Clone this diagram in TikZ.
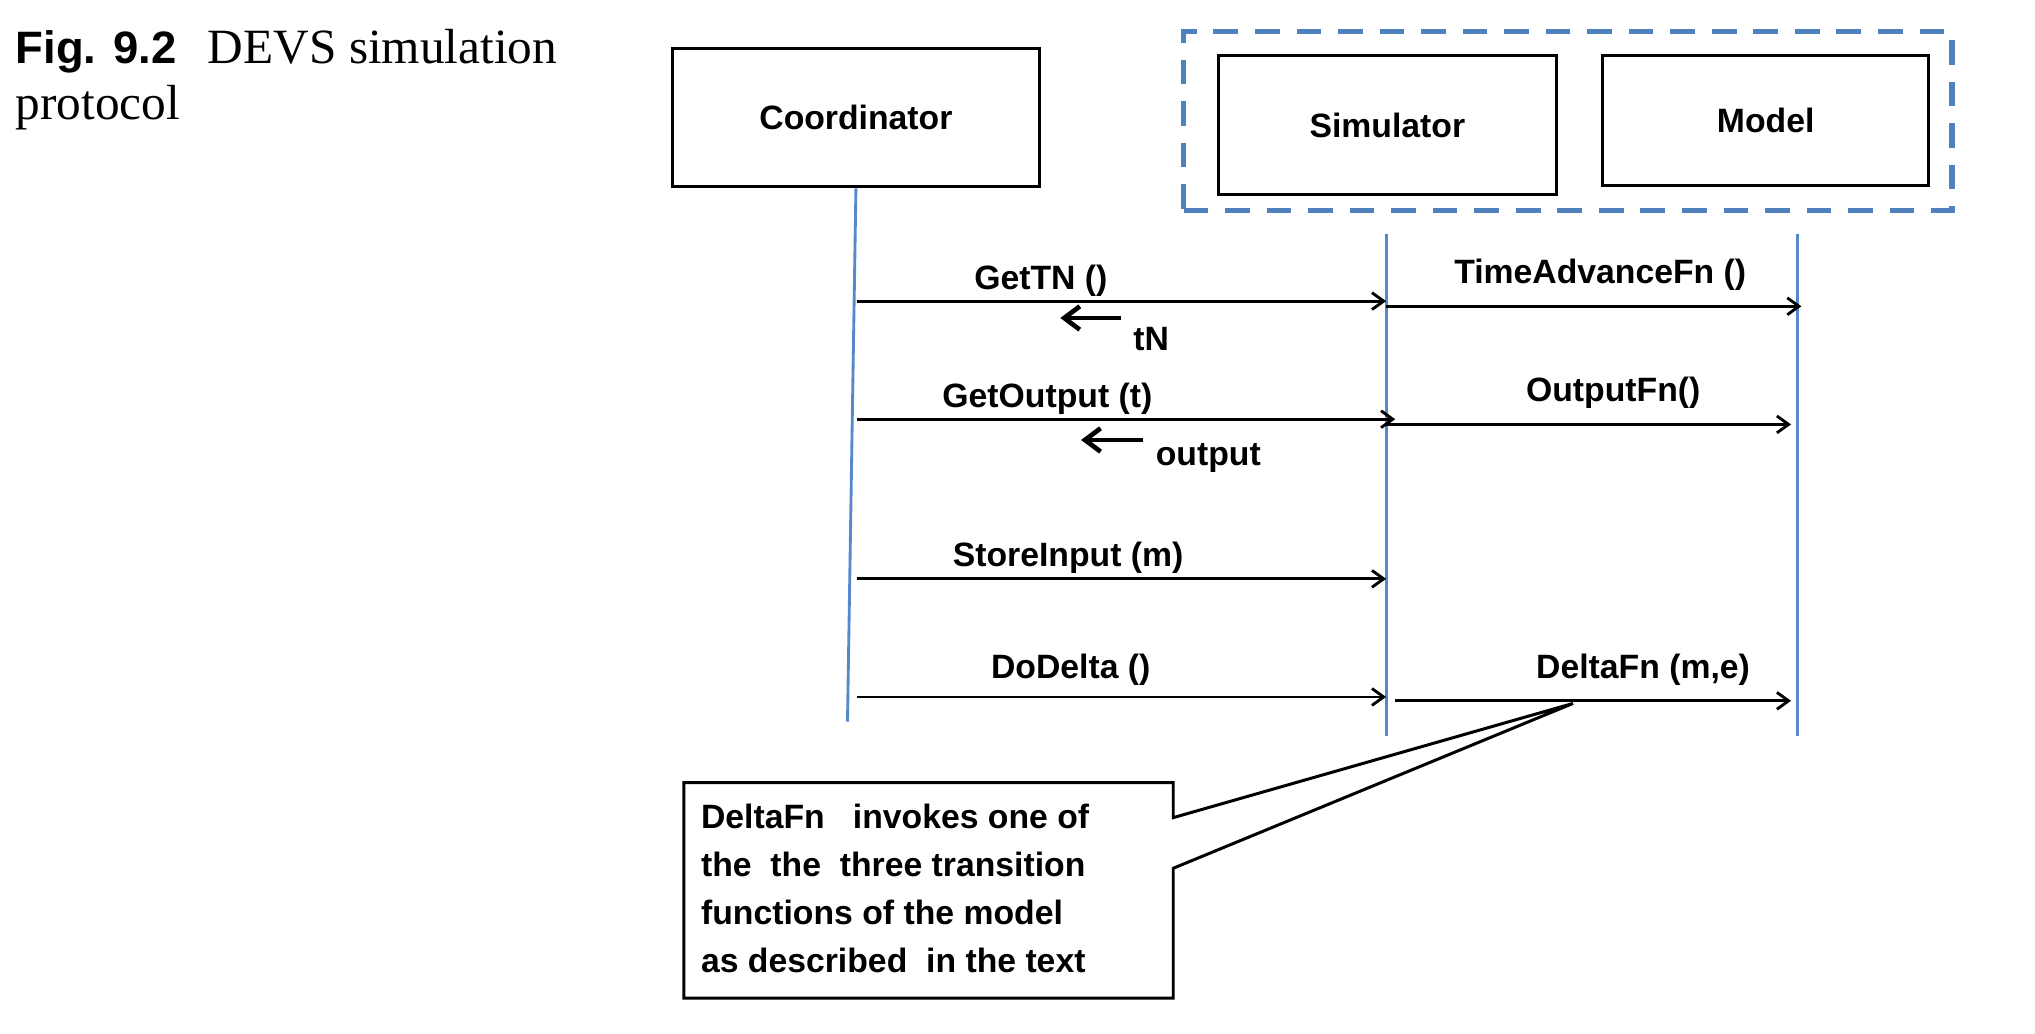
\documentclass[tikz,border=0pt]{standalone}
\usepackage{fontspec}
\setmainfont{Liberation Serif}
\setsansfont{Liberation Sans}
\usetikzlibrary{arrows.meta}
\definecolor{dashblue}{RGB}{79,129,189}
\definecolor{lifeblue}{RGB}{86,137,203}
\begin{document}
\begin{tikzpicture}[x=1pt,y=-1pt,
  lbl/.style={font=\sffamily\bfseries\fontsize{26}{30}\selectfont, inner sep=0pt},
  actor/.style={draw, line width=2.3pt, lbl},
  msg/.style={line width=2.2pt, -{Straight Barb[length=9pt,width=13pt,line width=2.2pt]}},
  ret/.style={line width=3.6pt, -{Straight Barb[length=12pt,width=18pt,line width=3.6pt]}},
  life/.style={lifeblue, line width=2.2pt}]
\fill[white] (0,0) rectangle (1568,796);
\useasboundingbox (0,0) rectangle (1568,796);

% caption
\node[anchor=base west, inner sep=0pt, font=\sffamily\bfseries\fontsize{35}{40}\selectfont] (fig) at (12,49) {Fig. 9.2};
\node[anchor=base west, inner sep=0pt, font=\fontsize{38}{44}\selectfont] (cap1) at (160,49) {DEVS simulation};
\node[anchor=base west, inner sep=0pt, font=\fontsize{38}{44}\selectfont] (cap2) at (12,92) {protocol};

% actors
\node[draw=dashblue, dash pattern=on 19pt off 13pt, line width=4pt, minimum width=592pt, minimum height=138pt] (grp) at (1208,93) {};
\node[actor, minimum width=283pt, minimum height=107pt] (coord) at (659.5,90.5) {Coordinator};
\node[actor, minimum width=260pt, minimum height=107pt] (sim) at (1069,96.5) {Simulator};
\node[actor, minimum width=251pt, minimum height=100pt] (model) at (1360.5,93) {Model};

% lifelines
\coordinate (cbot) at (653,556);
\coordinate (stop) at (1068,180);
\coordinate (sbot) at (1068,567);
\coordinate (mtop) at (1385,180);
\coordinate (mbot) at (1385,567);
\draw[life] (coord.south) -- (cbot);
\draw[life] (stop) -- (sbot);
\draw[life] (mtop) -- (mbot);

% message end points
\coordinate (c1) at (660,232);  \coordinate (s1) at (1068,232);
\coordinate (s1b) at (1068,236); \coordinate (m1) at (1388,236);
\coordinate (c2) at (660,323);  \coordinate (s2) at (1075,323);
\coordinate (s2b) at (1068,327); \coordinate (m2) at (1380,327);
\coordinate (c3) at (660,446);  \coordinate (s3) at (1068,446);
\coordinate (c4) at (660,537);  \coordinate (s4) at (1068,537);
\coordinate (s4b) at (1075,540); \coordinate (m4) at (1380,540);
\coordinate (r1a) at (864,245); \coordinate (r1b) at (817,245);
\coordinate (r2a) at (881,339); \coordinate (r2b) at (833,339);

\draw[msg] (c1) -- (s1);
\draw[msg] (s1b) -- (m1);
\draw[msg] (c2) -- (s2);
\draw[msg] (s2b) -- (m2);
\draw[msg] (c3) -- (s3);
\draw[msg] (c4) -- (s4);
\draw[msg] (s4b) -- (m4);
\draw[ret] (r1a) -- (r1b);
\draw[ret] (r2a) -- (r2b);

% labels
\node[lbl] (lgettn) at (802,216) {GetTN ()};
\node[lbl] (ltime) at (1233,212) {TimeAdvanceFn ()};
\node[lbl] (ltn) at (887,261) {tN};
\node[lbl] (lgetout) at (807,307) {GetOutput (t)};
\node[lbl] (loutfn) at (1243,303) {OutputFn()};
\node[lbl] (lout) at (931,353) {output};
\node[lbl] (lstore) at (823,430) {StoreInput (m)};
\node[lbl] (ldodelta) at (825,516) {DoDelta ()};
\node[lbl] (ldeltafn) at (1266,516) {DeltaFn (m,e)};

% callout
\coordinate (tip) at (1212,542);
\coordinate (ntl) at (527,603);
\coordinate (ntr) at (904,603);
\coordinate (nbr) at (904,769);
\coordinate (nbl) at (527,769);
\coordinate (pa) at (904,630);
\coordinate (pb) at (904,669);
\draw[line width=2.3pt, fill=white, line join=miter] (pa) -- (tip) -- (pb) -- (nbr) -- (nbl) -- (ntl) -- (ntr) -- cycle;
\node[lbl, align=left, anchor=west, font=\sffamily\bfseries\fontsize{26}{37}\selectfont] (note) at (540,684.5)
  {DeltaFn\ \ \ invokes one of\\the\ \ the\ \ three transition\\functions of the model\\as described\ \ in the text};
\end{tikzpicture}
\end{document}
